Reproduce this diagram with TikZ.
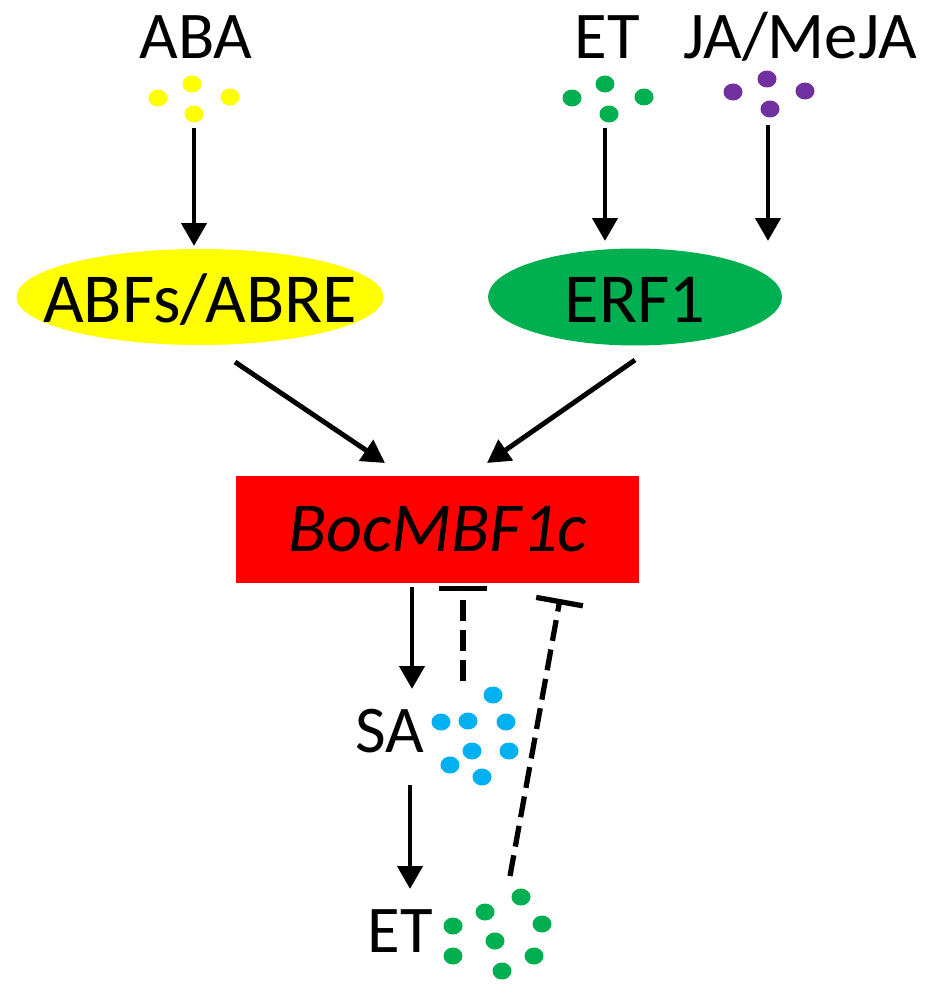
\documentclass[tikz,border=0pt]{standalone}
\usepackage{fontspec}
\setmainfont{Carlito}
\usetikzlibrary{arrows.meta,shapes.geometric}
\definecolor{yel}{HTML}{FFFF00}
\definecolor{grn}{HTML}{00B050}
\definecolor{pur}{HTML}{7030A0}
\definecolor{cya}{HTML}{00B0F0}
\newcommand{\mydot}[3]{\fill[#1] (#2,#3) ellipse [x radius=0.19cm, y radius=0.17cm];}
\begin{document}
\begin{tikzpicture}[x=0.02cm,y=-0.02cm,
  lbl/.style={font=\fontsize{38}{40}\selectfont, inner sep=0pt, anchor=base},
  act/.style={line width=2.8pt, -{Triangle[length=13pt,width=14pt]}},
  inh/.style={line width=3pt, dash pattern=on 12pt off 5pt, -{Bar[width=27pt,line width=3pt]}},
  oval/.style={inner sep=0pt, font=\fontsize{40}{42}\selectfont}]
\useasboundingbox[fill=white] (0,0) rectangle (945,987);

% top labels
\node[lbl] (aba) at (196,58) {ABA};
\node[lbl] (et1) at (607,58) {ET};
\node[lbl] (ja) at (800,58) {JA/MeJA};

% dots
\mydot{yel}{158}{98} \mydot{yel}{192}{84} \mydot{yel}{230}{97} \mydot{yel}{194}{114}
\mydot{grn}{572}{98} \mydot{grn}{605}{84} \mydot{grn}{644}{97} \mydot{grn}{609}{114}
\mydot{pur}{733}{92} \mydot{pur}{767}{79} \mydot{pur}{805}{91} \mydot{pur}{770}{109}

% ovals
\fill[yel] (200,297) ellipse [x radius=3.67cm, y radius=0.96cm];
\node[oval] (abf) at (200,300) {ABFs/ABRE};
\fill[grn] (635,297) ellipse [x radius=2.94cm, y radius=0.97cm];
\node[oval] (erf) at (635,300) {ERF1};

% box
\node[rectangle, fill=red, inner sep=0pt, minimum width=8.08cm, minimum height=2.16cm,
  font=\fontsize{40}{42}\selectfont\itshape] (box) at (437.5,529.5) {BocMBF1c\hspace{0.2cm}};

% lower labels
\node[lbl] (sa) at (390,752) {SA};
\node[lbl] (et2) at (400,952) {ET};

\mydot{cya}{493}{695} \mydot{cya}{441}{722} \mydot{cya}{468}{721} \mydot{cya}{506}{722}
\mydot{cya}{472}{751} \mydot{cya}{509}{751} \mydot{cya}{450}{765} \mydot{cya}{482}{777}

\mydot{grn}{453}{926} \mydot{grn}{485}{912} \mydot{grn}{521}{897} \mydot{grn}{542}{924}
\mydot{grn}{495}{941} \mydot{grn}{453}{956} \mydot{grn}{534}{956} \mydot{grn}{502}{971}

% connector end points
\coordinate (a1s) at (194,128); \coordinate (a1e) at (194,246);
\coordinate (a2s) at (605,128); \coordinate (a2e) at (605,241);
\coordinate (a3s) at (768,125); \coordinate (a3e) at (768,241);
\coordinate (d1s) at (235,362); \coordinate (d1e) at (385,463);
\coordinate (d2s) at (635,360); \coordinate (d2e) at (487,463);
\coordinate (v1s) at (412,587); \coordinate (v1e) at (412,689);
\coordinate (v2s) at (410,785); \coordinate (v2e) at (410,889);
\coordinate (i1s) at (463,681); \coordinate (i1e) at (463,586);
\coordinate (i2s) at (510,876); \coordinate (i2e) at (560,599);

\draw[act] (a1s) -- (a1e);
\draw[act] (a2s) -- (a2e);
\draw[act] (a3s) -- (a3e);
\draw[act] (d1s) -- (d1e);
\draw[act] (d2s) -- (d2e);
\draw[act] (v1s) -- (v1e);
\draw[act] (v2s) -- (v2e);
\draw[inh] (i1s) -- (i1e);
\draw[inh] (i2s) -- (i2e);
\end{tikzpicture}
\end{document}
